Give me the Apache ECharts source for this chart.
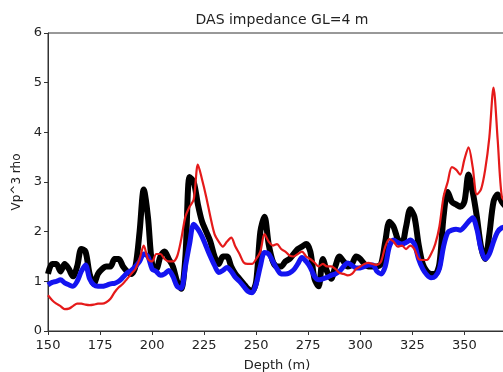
<!DOCTYPE html>
<html>
<head>
<meta charset="utf-8">
<script src="https://cdn.jsdelivr.net/npm/echarts@6/dist/echarts.min.js"></script>
<style>
  html, body { margin: 0; padding: 0; background: #fff; }
  #chart { width: 503px; height: 372px; }
</style>
</head>
<body>
<div id="chart"></div>
<script>
// depth grid (m), every 2 m
const depth = []
for (let d = 150; d <= 370; d += 2) depth.push(d)

// black trace
const blackVals = [
  1.15, 1.35, 1.35, 1.2, 1.35, 1.25, 1.1, 1.3, 1.65, 1.6,
  1.15, 0.95, 1.15, 1.25, 1.3, 1.3, 1.45, 1.45, 1.3, 1.2,
  1.15, 1.3, 2.0, 2.85, 2.3, 1.35, 1.25, 1.5, 1.6, 1.45,
  1.3, 1.0, 0.85, 1.5, 3.1, 3.0, 2.55, 2.2, 2.0, 1.8,
  1.5, 1.35, 1.5, 1.5, 1.3, 1.15, 1.05, 0.95, 0.85, 0.8,
  1.0, 2.0, 2.3, 1.75, 1.4, 1.3, 1.3, 1.4, 1.45, 1.55,
  1.65, 1.7, 1.75, 1.6, 1.05, 0.9, 1.45, 1.2, 1.05, 1.3,
  1.5, 1.4, 1.3, 1.35, 1.5, 1.45, 1.35, 1.3, 1.3, 1.3,
  1.35, 1.8, 2.2, 2.1, 1.85, 1.75, 2.1, 2.45, 2.3, 1.75,
  1.35, 1.2, 1.15, 1.15, 1.35, 2.3, 2.8, 2.6, 2.55, 2.5,
  2.6, 3.15, 2.8, 2.3, 1.7, 1.45, 1.95, 2.6, 2.75, 2.6,
  2.5
]

// red trace
const redVals = [
  0.72, 0.62, 0.55, 0.5, 0.44, 0.45, 0.5, 0.55, 0.55, 0.53,
  0.52, 0.53, 0.55, 0.55, 0.58, 0.65, 0.78, 0.88, 0.95, 1.05,
  1.15, 1.25, 1.45, 1.72, 1.45, 1.4, 1.55, 1.55, 1.45, 1.4,
  1.4, 1.5, 1.85, 2.3, 2.5, 2.65, 3.35, 3.05, 2.7, 2.3,
  1.95, 1.8, 1.7, 1.8, 1.88, 1.7, 1.55, 1.38, 1.35, 1.35,
  1.45, 1.6, 1.95, 1.8, 1.72, 1.75, 1.65, 1.6, 1.52, 1.5,
  1.55, 1.6, 1.5, 1.45, 1.38, 1.3, 1.35, 1.3, 1.3, 1.25,
  1.17, 1.15, 1.12, 1.15, 1.25, 1.3, 1.35, 1.37, 1.35, 1.33,
  1.4, 1.7, 1.85, 1.8, 1.7, 1.72, 1.65, 1.72, 1.65, 1.45,
  1.43, 1.43, 1.55, 1.75, 2.1, 2.7, 3.0, 3.3, 3.25, 3.15,
  3.45, 3.7, 3.3, 2.75, 2.85, 3.25, 3.9, 4.9, 3.85, 2.7,
  2.6
]

// blue trace
const blueVals = [
  0.93, 0.98, 1.0, 1.03, 0.97, 0.93, 0.9, 1.0, 1.2, 1.33,
  1.05, 0.93, 0.9, 0.9, 0.92, 0.95, 0.96, 1.0, 1.08, 1.17,
  1.22, 1.3, 1.4, 1.55, 1.5, 1.25, 1.2, 1.12, 1.15, 1.22,
  1.1, 0.9, 0.86, 1.3, 1.75, 2.15, 2.05, 1.9, 1.7, 1.5,
  1.32, 1.18, 1.22, 1.28, 1.2, 1.08, 1.0, 0.9, 0.8, 0.77,
  0.95, 1.3, 1.58, 1.55, 1.4, 1.25, 1.15, 1.15, 1.17, 1.23,
  1.35, 1.48, 1.4, 1.28, 1.1, 1.03, 1.05, 1.08, 1.12, 1.15,
  1.2, 1.3, 1.37, 1.32, 1.27, 1.27, 1.3, 1.33, 1.33, 1.2,
  1.15, 1.3, 1.7, 1.83, 1.78, 1.75, 1.78, 1.83, 1.75, 1.45,
  1.25, 1.13, 1.07, 1.1, 1.25, 1.7, 1.98, 2.03, 2.05, 2.03,
  2.1, 2.2, 2.28, 2.05, 1.65, 1.45, 1.55, 1.8, 2.0, 2.08,
  2.1
]

const pairs = vals => depth.map((d, i) => [d, vals[i]])

const chart = echarts.init(document.getElementById('chart'))
const axisColor = '#333'
const font = 'DejaVu Sans'

chart.setOption({
  animation: false,
  backgroundColor: '#fff',
  title: {
    text: 'DAS impedance GL=4 m',
    left: 277,
    textAlign: 'center',
    top: 8,
    textStyle: { fontFamily: font, fontSize: 14, fontWeight: 'normal', color: '#222' },
  },
  grid: {
    left: 48,
    top: 33,
    width: 458,
    height: 298,
    outerBoundsMode: 'none',
    show: true,
    borderColor: axisColor,
    borderWidth: 1,
  },
  xAxis: {
    type: 'value',
    min: 150,
    max: 370,
    interval: 25,
    name: 'Depth (m)',
    nameLocation: 'middle',
    nameGap: 28,
    nameTextStyle: { fontFamily: font, fontSize: 13, color: '#222' },
    axisLine: { lineStyle: { color: axisColor } },
    axisTick: { length: 4, lineStyle: { color: axisColor } },
    axisLabel: { fontFamily: font, fontSize: 13, color: '#222', margin: 8, showMaxLabel: false },
    splitLine: { show: false },
  },
  yAxis: {
    type: 'value',
    min: 0,
    max: 6,
    interval: 1,
    name: 'Vp^3 rho',
    nameLocation: 'middle',
    nameGap: 9,
    nameTextStyle: { fontFamily: font, fontSize: 12, color: '#222' },
    axisLine: { show: true, lineStyle: { color: axisColor } },
    axisTick: { show: true, length: 4, lineStyle: { color: axisColor } },
    axisLabel: { fontFamily: font, fontSize: 13, color: '#222', margin: 6 },
    splitLine: { show: false },
  },
  series: [
    {
      type: 'line',
      data: pairs(blackVals),
      showSymbol: false,
      smooth: 0.3,
      lineStyle: { color: '#000', width: 6 },
      z: 2,
    },
    {
      type: 'line',
      data: pairs(blueVals),
      showSymbol: false,
      smooth: 0.3,
      lineStyle: { color: '#1414f0', width: 5 },
      z: 3,
    },
    {
      type: 'line',
      data: pairs(redVals),
      showSymbol: false,
      smooth: 0.3,
      lineStyle: { color: '#e51a1a', width: 2.2 },
      z: 4,
    },
  ],
})
</script>
</body>
</html>
